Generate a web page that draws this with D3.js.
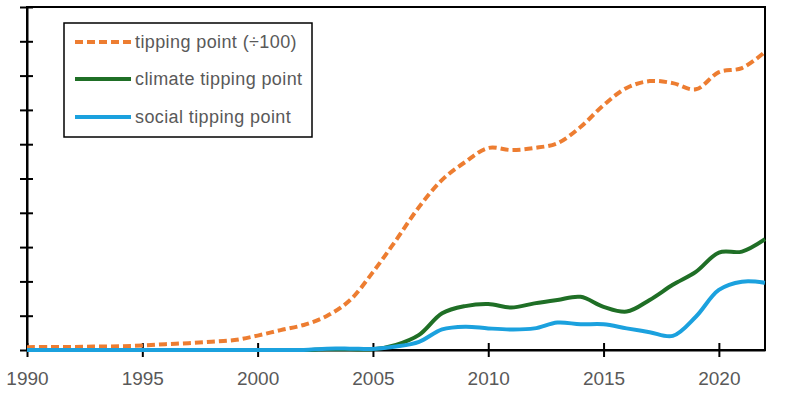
<!DOCTYPE html>
<html><head><meta charset="utf-8">
<script src="https://cdn.jsdelivr.net/npm/d3@7"></script>
<style>body{margin:0;background:#fff}svg{display:block}</style>
</head><body><svg id="c" width="788" height="394"></svg>
<script>
const years = d3.range(1990, 2023);
const tippingPoint = [0.08,0.09,0.09,0.10,0.11,0.13,0.17,0.20,0.24,0.29,0.42,0.58,0.73,0.99,1.45,2.27,3.20,4.17,4.96,5.48,5.89,5.83,5.89,6.03,6.50,7.14,7.64,7.84,7.78,7.60,8.10,8.22,8.69];
const climateTP = [0,0,0,0,0,0,0,0,0,0,0,0,0,0.02,0.02,0.02,0.15,0.44,1.07,1.28,1.34,1.24,1.36,1.46,1.55,1.26,1.12,1.46,1.90,2.28,2.84,2.87,3.23];
const socialTP = [0,0,0,0,0,0,0,0,0,0,0,0,0,0.04,0.04,0.03,0.10,0.24,0.60,0.68,0.63,0.60,0.63,0.80,0.75,0.75,0.63,0.52,0.41,0.97,1.75,1.99,1.96];
const xTicks = [1990,1995,2000,2005,2010,2015,2020];
const yTicks = d3.range(0, 11);
const seriesNames = ["tipping point (÷100)", "climate tipping point", "social tipping point"];
const colors = ["#ED7D31", "#1F6F26", "#1BA1DE"];

const svg = d3.select("#c");
const L = 27, R = 765, T = 7, B = 350;
const x = d3.scaleLinear().domain([1990, 2022]).range([L, R]);
const y = d3.scaleLinear().domain([0, 10]).range([B, T]);

// frame
svg.append("rect").attr("x", L).attr("y", T).attr("width", R - L).attr("height", B - T)
  .attr("fill", "none").attr("stroke", "#000").attr("stroke-width", 2);

// axes
const gy = svg.append("g").attr("transform", `translate(${L},0)`)
  .call(d3.axisLeft(y).tickValues(yTicks).tickFormat("").tickSizeOuter(0));
gy.select(".domain").attr("stroke-width", 2);
gy.selectAll(".tick line").attr("x1", -7).attr("x2", 6).attr("stroke-width", 2);

const gx = svg.append("g").attr("transform", `translate(0,${B})`)
  .call(d3.axisBottom(x).tickValues(xTicks).tickFormat(d3.format("d")).tickSizeOuter(0));
gx.select(".domain").attr("stroke-width", 2);
gx.selectAll(".tick line").attr("y1", -7).attr("y2", 7).attr("stroke-width", 2);
gx.selectAll(".tick text").attr("y", 22).attr("dy", "0.71em")
  .attr("fill", "#595959").style("font-family", "Liberation Sans, Arial, sans-serif").style("font-size", "19px");

// lines
const line = d3.line().x((d, i) => x(years[i])).y(d => y(d)).curve(d3.curveCatmullRom.alpha(0.5));
const data = [tippingPoint, climateTP, socialTP];
data.forEach((s, k) => {
  svg.append("path").datum(s).attr("d", line).attr("fill", "none")
    .attr("stroke", colors[k]).attr("stroke-width", 4)
    .attr("stroke-dasharray", k === 0 ? "8,4" : null)
    .attr("stroke-linejoin", "round");
});

// legend
const lg = svg.append("g");
lg.append("rect").attr("x", 64).attr("y", 23).attr("width", 248).attr("height", 114)
  .attr("fill", "#fff").attr("stroke", "#000").attr("stroke-width", 1.5);
const rows = [42, 79, 117];
seriesNames.forEach((n, k) => {
  lg.append("line").attr("x1", 75).attr("x2", 131).attr("y1", rows[k]).attr("y2", rows[k])
    .attr("stroke", colors[k]).attr("stroke-width", 4)
    .attr("stroke-dasharray", k === 0 ? "8,4" : null);
  lg.append("text").attr("x", 135).attr("y", rows[k]).attr("dy", "0.35em")
    .attr("fill", "#595959").style("font-family", "Liberation Sans, Arial, sans-serif")
    .style("font-size", "18px").style("letter-spacing", "0.4px").text(n);
});
</script></body></html>
